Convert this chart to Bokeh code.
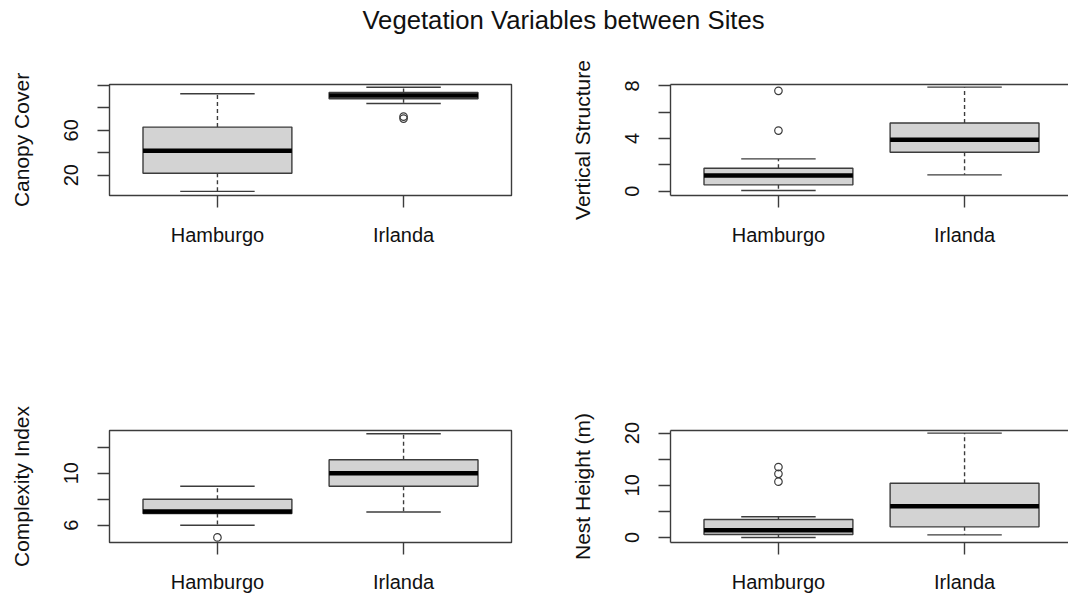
from bokeh.plotting import figure
from bokeh.models import Range1d, FixedTicker, LinearAxis, Label
from bokeh.layouts import column, row
from bokeh.embed import file_html
from bokeh.resources import INLINE

# ---------------- data ----------------
sites = ["Hamburgo", "Irlanda"]
site_pos = [1, 2]

canopy_low = [5.6, 83.9]
canopy_q1 = [21.8, 88.2]
canopy_med = [41.8, 91.2]
canopy_q3 = [62.9, 93.8]
canopy_high = [92.6, 98.5]
canopy_out_site = [2, 2]
canopy_out_val = [72.3, 70.5]
canopy_ticks = [20, 40, 60, 80, 100]
canopy_tick_labels = ["20", "", "60", "", ""]

vert_low = [0.05, 1.24]
vert_q1 = [0.48, 2.95]
vert_med = [1.19, 3.91]
vert_q3 = [1.74, 5.18]
vert_high = [2.45, 7.9]
vert_out_site = [1, 1]
vert_out_val = [7.62, 4.6]
vert_ticks = [0, 2, 4, 6, 8]
vert_tick_labels = ["0", "", "4", "", "8"]

compl_low = [6.0, 7.02]
compl_q1 = [6.9, 8.99]
compl_med = [7.05, 10.0]
compl_q3 = [7.99, 11.03]
compl_high = [8.99, 13.03]
compl_out_site = [1]
compl_out_val = [5.06]
compl_ticks = [6, 8, 10, 12]
compl_tick_labels = ["6", "", "10", ""]

nest_low = [0.0, 0.5]
nest_q1 = [0.58, 2.04]
nest_med = [1.4, 6.0]
nest_q3 = [3.46, 10.4]
nest_high = [3.96, 20.0]
nest_out_site = [1, 1, 1]
nest_out_val = [13.5, 12.2, 10.7]
nest_ticks = [0, 5, 10, 15, 20]
nest_tick_labels = ["0", "", "10", "", "20"]

# ---------------- style ----------------
FONT = "Liberation Sans"
LINE = "#3c3c3c"
TEXT = "#111111"
FILL = "#d3d3d3"
BOX_W = 0.8
CAP_W = 0.4
LW = 1.4


def make_panel(label, low, q1, med, q3, high, out_site, out_val,
               ticks, tick_labels, y_rng, right_side, top_row):
    if right_side:
        w, bl, br = 505, 107, 0
        x_end = 0.42 + 398 / (402 / 2.16)
    else:
        w, bl, br = 563, 109, 52
        x_end = 2.58
    if top_row:
        h, bt, bb = 300, 44, 145
    else:
        h, bt, bb = 258, 90, 56

    p = figure(width=w, height=h, min_border_left=bl, min_border_right=br,
               min_border_top=bt, min_border_bottom=bb,
               x_range=Range1d(0.42, x_end), y_range=Range1d(*y_rng),
               toolbar_location=None, output_backend="svg")
    p.grid.visible = False
    p.background_fill_color = "white"
    p.border_fill_color = "white"

    xa = p.below[0]
    ya = p.left[0]

    if right_side:
        p.outline_line_color = None
        top_axis = LinearAxis(ticker=FixedTicker(ticks=[]),
                              axis_line_color=LINE, axis_line_width=LW,
                              major_tick_line_color=None, minor_tick_line_color=None,
                              major_label_text_font_size="0px",
                              major_label_standoff=0)
        p.add_layout(top_axis, "above")
        axis_line_col = LINE
    else:
        p.outline_line_color = LINE
        p.outline_line_width = LW
        axis_line_col = None

    # x axis
    xa.ticker = FixedTicker(ticks=site_pos)
    xa.major_label_overrides = {pos: s for pos, s in zip(site_pos, sites)}
    xa.major_tick_out = 12
    xa.major_tick_in = 0
    xa.minor_tick_line_color = None
    xa.major_tick_line_color = LINE
    xa.major_tick_line_width = LW
    xa.axis_line_color = axis_line_col
    xa.axis_line_width = LW
    xa.major_label_standoff = 16
    xa.major_label_text_font = FONT
    xa.major_label_text_font_size = "20px"
    xa.major_label_text_color = TEXT

    # y axis
    ya.ticker = FixedTicker(ticks=ticks)
    ya.major_label_overrides = {t: s for t, s in zip(ticks, tick_labels)}
    ya.major_label_orientation = "vertical"
    ya.major_tick_out = 12
    ya.major_tick_in = 0
    ya.minor_tick_line_color = None
    ya.major_tick_line_color = LINE
    ya.major_tick_line_width = LW
    ya.axis_line_color = axis_line_col
    ya.axis_line_width = LW
    ya.major_label_standoff = 19
    ya.major_label_text_font = FONT
    ya.major_label_text_font_size = "20px"
    ya.major_label_text_color = TEXT
    ya.axis_label = label
    ya.axis_label_text_font = FONT
    ya.axis_label_text_font_size = "21px"
    ya.axis_label_text_font_style = "normal"
    ya.axis_label_text_color = TEXT
    ya.axis_label_standoff = 29

    xs = site_pos
    # whiskers (dashed)
    p.segment(x0=xs, x1=xs, y0=q3, y1=high, line_color=LINE, line_width=LW,
              line_dash="4 3")
    p.segment(x0=xs, x1=xs, y0=q1, y1=low, line_color=LINE, line_width=LW,
              line_dash="4 3")
    # caps
    p.segment(x0=[x - CAP_W / 2 for x in xs], x1=[x + CAP_W / 2 for x in xs],
              y0=high, y1=high, line_color=LINE, line_width=LW)
    p.segment(x0=[x - CAP_W / 2 for x in xs], x1=[x + CAP_W / 2 for x in xs],
              y0=low, y1=low, line_color=LINE, line_width=LW)
    # boxes
    p.quad(left=[x - BOX_W / 2 for x in xs], right=[x + BOX_W / 2 for x in xs],
           bottom=q1, top=q3, fill_color=FILL, line_color=LINE, line_width=LW)
    # medians
    p.segment(x0=[x - BOX_W / 2 for x in xs], x1=[x + BOX_W / 2 for x in xs],
              y0=med, y1=med, line_color="black", line_width=4.5)
    # outliers
    p.scatter(x=out_site, y=out_val, marker="circle", size=7.5,
              fill_color=None, line_color=LINE, line_width=1.2)
    return p


p1 = make_panel("Canopy Cover", canopy_low, canopy_q1, canopy_med, canopy_q3,
                canopy_high, canopy_out_site, canopy_out_val,
                canopy_ticks, canopy_tick_labels, (1.9, 100.9), False, True)
p2 = make_panel("Vertical Structure", vert_low, vert_q1, vert_med, vert_q3,
                vert_high, vert_out_site, vert_out_val,
                vert_ticks, vert_tick_labels, (-0.33, 8.1), True, True)
p3 = make_panel("Complexity Index", compl_low, compl_q1, compl_med, compl_q3,
                compl_high, compl_out_site, compl_out_val,
                compl_ticks, compl_tick_labels, (4.67, 13.28), False, False)
p4 = make_panel("Nest Height (m)", nest_low, nest_q1, nest_med, nest_q3,
                nest_high, nest_out_site, nest_out_val,
                nest_ticks, nest_tick_labels, (-0.96, 20.5), True, False)

# title strip
tp = figure(width=1068, height=40, x_range=Range1d(0, 1068), y_range=Range1d(0, 40),
            x_axis_location=None, y_axis_location=None, min_border=0,
            toolbar_location=None, output_backend="svg")
tp.grid.visible = False
tp.outline_line_color = None
tp.add_layout(Label(x=563, y=21, text="Vegetation Variables between Sites",
                    text_align="center", text_baseline="alphabetic",
                    text_font=FONT, text_font_size="25.7px", text_color=TEXT))

layout = column(tp, row(p1, p2), row(p3, p4))

open("out.html", "w").write(file_html(layout, INLINE))
